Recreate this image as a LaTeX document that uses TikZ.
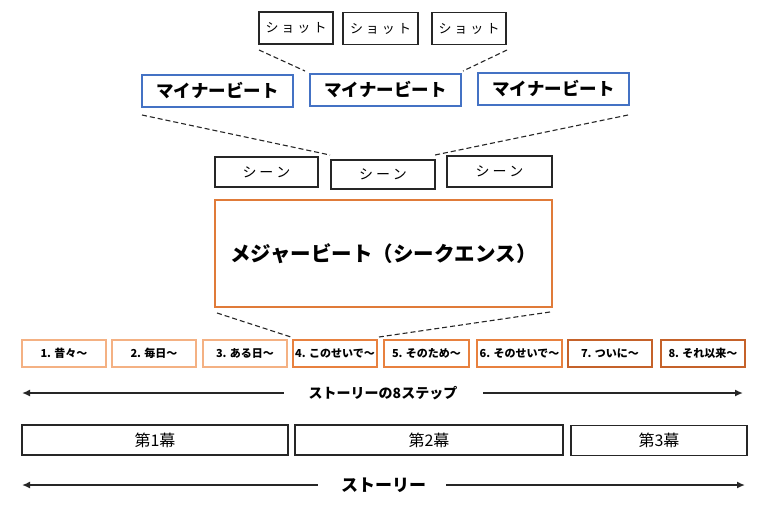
\documentclass[tikz,border=0pt]{standalone}
\usepackage{fontspec}
\setmainfont{Noto Sans CJK JP}
\usetikzlibrary{arrows.meta}
\definecolor{boxgray}{HTML}{262626}
\definecolor{minblue}{HTML}{4472C4}
\definecolor{majorange}{HTML}{E07B39}
\definecolor{lightor}{HTML}{F4B183}
\definecolor{midor}{HTML}{E8813F}
\definecolor{darkor}{HTML}{C5622A}
\newcommand{\kgap}{\hspace{3pt}}
\tikzset{
  plainbox/.style={draw=boxgray, line width=1.5pt, inner sep=0pt, align=center},
  shotbox/.style={plainbox, minimum width=74pt, minimum height=32pt, font=\fontsize{13}{15}\selectfont},
  scenebox/.style={plainbox, minimum width=104pt, minimum height=30pt, font=\fontsize{14}{16}\selectfont},
  minorbox/.style={draw=minblue, line width=2.2pt, inner sep=0pt, minimum width=151pt, minimum height=32pt, font=\fontsize{17.5}{19}\selectfont\bfseries},
  majorbox/.style={draw=majorange, line width=2.4pt, inner sep=0pt, minimum width=337pt, minimum height=107pt, font=\fontsize{20.5}{23}\selectfont\bfseries},
  stepbox/.style={line width=1.6pt, inner sep=0pt, minimum height=27pt, minimum width=84pt, font=\fontsize{11}{12}\selectfont\bfseries},
  actbox/.style={plainbox, minimum height=30pt, font=\fontsize{16}{18}\selectfont},
  dashline/.style={draw=boxgray, line width=1.1pt, dash pattern=on 5pt off 3pt},
  arr/.style={draw=boxgray, line width=1.6pt, -{Latex[length=8pt,width=7pt]}},
  arrlabel/.style={inner sep=0pt, font=\fontsize{14}{16}\selectfont\bfseries},
}
\begin{document}
\begin{tikzpicture}[x=1pt,y=-1pt]
\useasboundingbox[fill=white] (0,0) rectangle (768,512);
% shots
\node[shotbox] (s1) at (296,28) {シ\kgap ョ\kgap ッ\kgap ト};
\node[shotbox, minimum width=75pt] (s2) at (380.5,28.5) {シ\kgap ョ\kgap ッ\kgap ト};
\node[shotbox] (s3) at (469,28.5) {シ\kgap ョ\kgap ッ\kgap ト};
% minor beats
\node[minorbox] (m1) at (217.5,91) {マイナービート};
\node[minorbox] (m2) at (385.5,90) {マイナービート};
\node[minorbox] (m3) at (553.5,89) {マイナービート};
% scenes
\node[scenebox, minimum width=103pt] (c1) at (266.5,172) {シ\kgap ー\kgap ン};
\node[scenebox, minimum height=29pt] (c2) at (383,174.5) {シ\kgap ー\kgap ン};
\node[scenebox, minimum width=105pt, minimum height=31pt] (c3) at (499.5,171.5) {シ\kgap ー\kgap ン};
% major beat
\node[majorbox] (mj) at (383.5,253.5) {メジャービート（シークエンス）};
% steps
\node[stepbox, draw=lightor] (p1) at (64,353.5) {1. 昔々〜};
\node[stepbox, draw=lightor] (p2) at (154,353.5) {2. 毎日〜};
\node[stepbox, draw=lightor] (p3) at (245,353.5) {3. ある日〜};
\node[stepbox, draw=midor] (p4) at (335,353.5) {4. このせいで〜};
\node[stepbox, draw=midor, minimum width=85pt] (p5) at (426.5,353.5) {5. そのため〜};
\node[stepbox, draw=midor, minimum width=85pt] (p6) at (519.5,353.5) {6. そのせいで〜};
\node[stepbox, draw=darkor] (p7) at (610,353.5) {7. ついに〜};
\node[stepbox, draw=darkor] (p8) at (703,353.5) {8. それ以来〜};
% dashed links
\coordinate (ds1a) at (259,50); \coordinate (ds1b) at (305,71);
\coordinate (ds2a) at (507,50); \coordinate (ds2b) at (463,71);
\draw[dashline] (ds1a) -- (ds1b);
\draw[dashline] (ds2a) -- (ds2b);
\coordinate (dm1a) at (142,115); \coordinate (dm1b) at (330,155);
\coordinate (dm2a) at (628,115); \coordinate (dm2b) at (435,155);
\draw[dashline] (dm1a) -- (dm1b);
\draw[dashline] (dm2a) -- (dm2b);
\coordinate (dj1a) at (217,313); \coordinate (dj1b) at (291,337);
\coordinate (dj2a) at (550,312); \coordinate (dj2b) at (379,337);
\draw[dashline] (dj1a) -- (dj1b);
\draw[dashline] (dj2a) -- (dj2b);
% 8 steps arrow
\node[arrlabel] (lab1) at (383,393) {ストーリーの8ステップ};
\coordinate (l1l) at (22,393); \coordinate (l1r) at (743,393);
\draw[arr] ([xshift=-25pt]lab1.west) -- (l1l);
\draw[arr] ([xshift=26pt]lab1.east) -- (l1r);
% acts
\node[actbox, minimum width=266pt] (a1) at (155,440) {第1幕};
\node[actbox, minimum width=268pt] (a2) at (429,440) {第2幕};
\node[actbox, minimum width=176pt] (a3) at (659,440.5) {第3幕};
% story arrow
\node[arrlabel, font=\fontsize{17}{19}\selectfont\bfseries] (lab2) at (383.5,485) {ストーリー};
\coordinate (l2l) at (22,485); \coordinate (l2r) at (745,485);
\draw[arr] ([xshift=-23pt]lab2.west) -- (l2l);
\draw[arr] ([xshift=20pt]lab2.east) -- (l2r);
\end{tikzpicture}
\end{document}
